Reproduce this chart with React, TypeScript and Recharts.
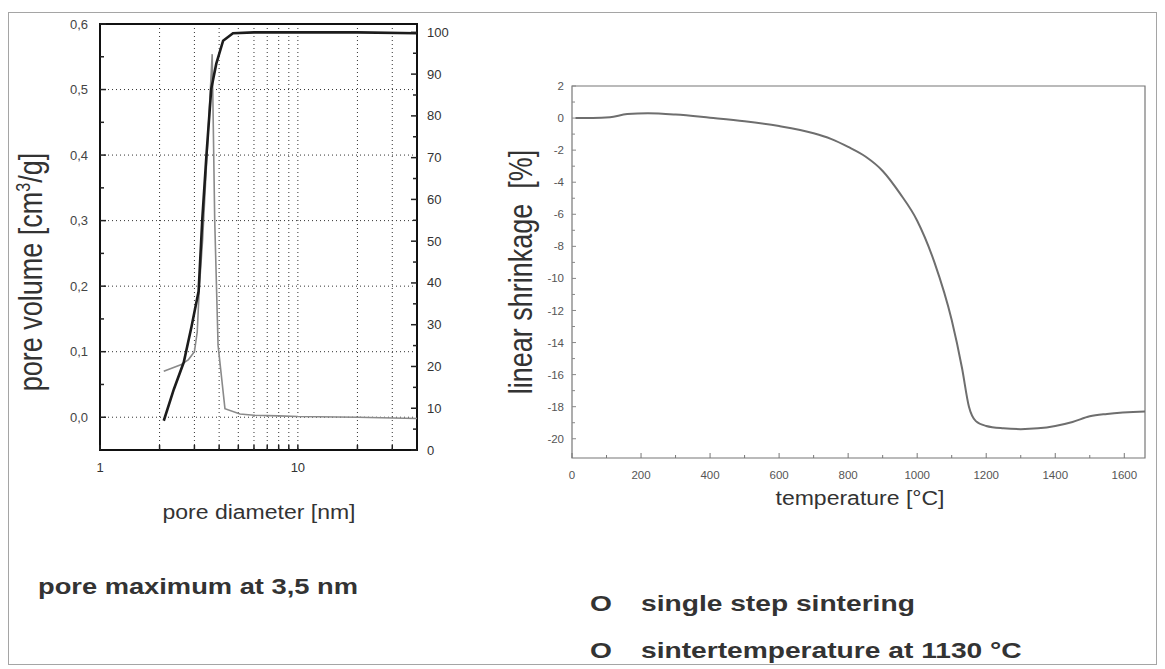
import { LineChart, Line, XAxis, YAxis, CartesianGrid, ReferenceArea } from "recharts";

// left panel: pore size distribution (log diameter axis)
const CUM_DIAM = [2.1, 2.36, 2.65, 2.9, 3.15, 3.29, 3.45, 3.65, 3.87, 4.19, 4.7, 6, 10, 20, 40];
const CUM_PCT = [7, 14.5, 21, 29.5, 38, 55.5, 70.5, 86.5, 92.5, 98, 99.8, 100, 100, 100, 99.8];

const DIST_DIAM = [2.1, 2.56, 2.8, 3.0, 3.1, 3.18, 3.3, 3.5, 3.69, 3.8, 3.95, 4.28, 5.1, 6, 8, 10, 20, 40];
const DIST_VOL = [0.07, 0.08, 0.088, 0.1, 0.13, 0.2, 0.27, 0.42, 0.554, 0.3, 0.11, 0.013, 0.005, 0.003, 0.002, 0.001, 0, -0.002];

const DIAM_TICKS = [1, 2, 3, 4, 5, 6, 7, 8, 9, 10, 20, 30];
const DIAM_LABELS = [1, 10];
const DIAM_GRID = [2, 3, 4, 5, 6, 7, 8, 9, 10, 20, 30];

const VOL_LABELS = [0, 0.1, 0.2, 0.3, 0.4, 0.5, 0.6];
const VOL_MINOR = [0.05, 0.15, 0.25, 0.35, 0.45, 0.55];
const VOL_GRID = [0, 0.1, 0.2, 0.3, 0.4, 0.5];

const PCT_LABELS = [0, 10, 20, 30, 40, 50, 60, 70, 80, 90, 100];
const PCT_MINOR = [5, 15, 25, 35, 45, 55, 65, 75, 85, 95];

// right panel: linear shrinkage vs temperature
const TEMP = [10, 60, 110, 160, 220, 300, 400, 500, 600, 700, 750, 800, 850, 900, 950, 1000, 1050, 1100, 1130, 1150, 1170, 1200, 1250, 1300, 1350, 1400, 1450, 1500, 1550, 1660];
const SHRINK = [0, 0, 0.05, 0.25, 0.3, 0.22, 0.02, -0.2, -0.5, -0.95, -1.3, -1.8, -2.4, -3.3, -4.7, -6.4, -9.0, -12.6, -15.6, -18.0, -18.9, -19.2, -19.35, -19.4, -19.35, -19.2, -18.95, -18.6, -18.45, -18.3];

const TEMP_LABELS = [0, 200, 400, 600, 800, 1000, 1200, 1400, 1600];
const TEMP_MINOR = [100, 300, 500, 700, 900, 1100, 1300, 1500];
const SHRINK_LABELS = [2, 0, -2, -4, -6, -8, -10, -12, -14, -16, -18, -20];
const SHRINK_MINOR = [1, -1, -3, -5, -7, -9, -11, -13, -15, -17, -19];

const FONT = '"Liberation Sans", Arial, sans-serif';

const has = (arr: number[], v: number) => arr.some((a) => Math.abs(a - v) < 1e-9);

type TickCfg = {
  side: "left" | "right" | "bottom";
  gap: number;
  labels: number[];
  majorLen: number;
  minorLen: number;
  fmt: (v: number) => string;
  fontSize: number;
  color: string;
  stroke: string;
  strokeWidth: number;
};

// ticks point into the plot, so draw them ourselves next to the label
const makeTick = (c: TickCfg) => (p: any) => {
  const v = p.payload.value;
  const major = has(c.labels, v);
  const len = major ? c.majorLen : c.minorLen;
  const txt = major ? c.fmt(v) : "";
  const textStyle = { fontFamily: FONT, fontSize: c.fontSize, fill: c.color };
  if (c.side === "bottom") {
    const ay = p.y - c.gap;
    return (
      <g>
        <line x1={p.x} y1={ay} x2={p.x} y2={ay - len} stroke={c.stroke} strokeWidth={c.strokeWidth} />
        <text x={p.x} y={p.y} dy="0.75em" textAnchor="middle" style={textStyle}>{txt}</text>
      </g>
    );
  }
  const dir = c.side === "left" ? 1 : -1;
  const ax = p.x + dir * c.gap;
  return (
    <g>
      <line x1={ax} y1={p.y} x2={ax + dir * len} y2={p.y} stroke={c.stroke} strokeWidth={c.strokeWidth} />
      <text x={p.x} y={p.y} dy="0.35em" textAnchor={c.side === "left" ? "end" : "start"} style={textStyle}>{txt}</text>
    </g>
  );
};

const diamTick = makeTick({ side: "bottom", gap: 12, labels: DIAM_LABELS, majorLen: 5, minorLen: 5, fmt: (v) => String(v), fontSize: 13, color: "#333", stroke: "#222", strokeWidth: 1.5 });
const volTick = makeTick({ side: "left", gap: 12, labels: VOL_LABELS, majorLen: 6, minorLen: 4, fmt: (v) => v.toFixed(1).replace(".", ","), fontSize: 13, color: "#444", stroke: "#222", strokeWidth: 1.5 });
const pctTick = makeTick({ side: "right", gap: 10, labels: PCT_LABELS, majorLen: 6, minorLen: 4, fmt: (v) => String(v), fontSize: 13, color: "#333", stroke: "#222", strokeWidth: 1.5 });
const tempTick = makeTick({ side: "bottom", gap: 12, labels: TEMP_LABELS, majorLen: 5, minorLen: 3, fmt: (v) => String(v), fontSize: 11.5, color: "#555", stroke: "#777", strokeWidth: 1 });
const shrinkTick = makeTick({ side: "left", gap: 8, labels: SHRINK_LABELS, majorLen: 4, minorLen: 3, fmt: (v) => String(v), fontSize: 11.5, color: "#555", stroke: "#888", strokeWidth: 1 });

const cumData = CUM_DIAM.map((d, i) => ({ d, pct: CUM_PCT[i] }));
const distData = DIST_DIAM.map((d, i) => ({ d, vol: DIST_VOL[i] }));
const shrinkData = TEMP.map((t, i) => ({ t, s: SHRINK[i] }));

const abs = (left: number, top: number, extra: any = {}) => ({ position: "absolute" as const, left, top, ...extra });

function HTitle({ x, y, size, children }: any) {
  return (
    <div
      style={abs(x, y, {
        transform: "translate(-50%, -50%) scaleX(1.15)",
        fontSize: size,
        color: "#333",
        whiteSpace: "nowrap",
      })}
    >
      {children}
    </div>
  );
}

function VTitle({ x, y, size, children }: any) {
  return (
    <div
      style={abs(x, y, {
        transform: "translate(-50%, -50%) rotate(-90deg) scaleY(1.25)",
        fontSize: size,
        color: "#333",
        whiteSpace: "nowrap",
      })}
    >
      {children}
    </div>
  );
}

function Note({ x, y, scale = 1.28, children }: any) {
  return (
    <div
      style={abs(x, y, {
        transform: `translateY(-50%) scaleX(${scale})`,
        transformOrigin: "left center",
        fontSize: 22,
        fontWeight: 700,
        color: "#333",
        whiteSpace: "nowrap",
      })}
    >
      {children}
    </div>
  );
}

export default function App() {
  return (
    <div style={{ position: "absolute", left: 0, top: 0, width: 1165, height: 669, background: "#fff", fontFamily: FONT, overflow: "hidden" }}>
      <div style={abs(8, 12, { width: 1149, height: 653, border: "1px solid #a5a5a5", boxSizing: "border-box" })} />

      <div style={abs(0, 0)}>
        <LineChart width={470} height={520} margin={{ top: 24, right: 8, bottom: 30, left: 40 }}>
          <CartesianGrid horizontalValues={VOL_GRID} verticalValues={DIAM_GRID} stroke="#333" strokeDasharray="1 3" />
          <XAxis
            type="number"
            dataKey="d"
            scale="log"
            domain={[1, 40]}
            allowDataOverflow
            ticks={DIAM_TICKS}
            interval={0}
            height={40}
            axisLine={false}
            tickLine={false}
            tickSize={0}
            tickMargin={12}
            tick={diamTick}
          />
          <YAxis
            type="number"
            domain={[-0.05, 0.6]}
            allowDataOverflow
            ticks={[...VOL_LABELS, ...VOL_MINOR]}
            interval={0}
            width={60}
            axisLine={false}
            tickLine={false}
            tickSize={0}
            tickMargin={12}
            tick={volTick}
          />
          <YAxis
            yAxisId="r"
            orientation="right"
            type="number"
            domain={[0, 102]}
            allowDataOverflow
            ticks={[...PCT_LABELS, ...PCT_MINOR]}
            interval={0}
            width={45}
            axisLine={false}
            tickLine={false}
            tickSize={0}
            tickMargin={10}
            tick={pctTick}
          />
          <ReferenceArea x1={1} x2={40} y1={-0.05} y2={0.6} fill="none" stroke="#111" strokeWidth={2} ifOverflow="visible" />
          <Line data={distData} dataKey="vol" type="linear" stroke="#8a8a8a" strokeWidth={1.6} dot={false} isAnimationActive={false} />
          <Line data={cumData} dataKey="pct" yAxisId="r" type="linear" stroke="#1c1c1c" strokeWidth={2.6} dot={false} isAnimationActive={false} />
        </LineChart>
      </div>

      <div style={abs(500, 0)}>
        <LineChart width={665} height={520} margin={{ top: 86, right: 20, bottom: 22, left: 22 }}>
          <XAxis
            type="number"
            dataKey="t"
            domain={[0, 1660]}
            allowDataOverflow
            ticks={[...TEMP_LABELS, ...TEMP_MINOR]}
            interval={0}
            height={40}
            axisLine={false}
            tickLine={false}
            tickSize={0}
            tickMargin={12}
            tick={tempTick}
          />
          <YAxis
            type="number"
            domain={[-21.2, 2]}
            allowDataOverflow
            ticks={[...SHRINK_LABELS, ...SHRINK_MINOR]}
            interval={0}
            width={50}
            axisLine={false}
            tickLine={false}
            tickSize={0}
            tickMargin={8}
            tick={shrinkTick}
          />
          <ReferenceArea x1={0} x2={1660} y1={-21.2} y2={2} fill="none" stroke="#777" strokeWidth={1.2} ifOverflow="visible" />
          <Line data={shrinkData} dataKey="s" type="monotone" stroke="#6e6e6e" strokeWidth={2} dot={false} isAnimationActive={false} />
        </LineChart>
      </div>

      <VTitle x={31} y={272} size={27}>
        pore volume [cm<sup style={{ fontSize: "0.6em" }}>3</sup>/g]
      </VTitle>
      <HTitle x={259} y={512} size={20}>pore diameter [nm]</HTitle>

      <VTitle x={521} y={272} size={27}>linear shrinkage&nbsp;&nbsp;[%]</VTitle>
      <HTitle x={860} y={498} size={20}>temperature [°C]</HTitle>

      <Note x={38} y={587} scale={1.24}>pore maximum at 3,5 nm</Note>
      <Note x={590} y={604}>O</Note>
      <Note x={641} y={604}>single step sintering</Note>
      <Note x={590} y={651}>O</Note>
      <Note x={641} y={651}>sintertemperature at 1130 °C</Note>
    </div>
  );
}
